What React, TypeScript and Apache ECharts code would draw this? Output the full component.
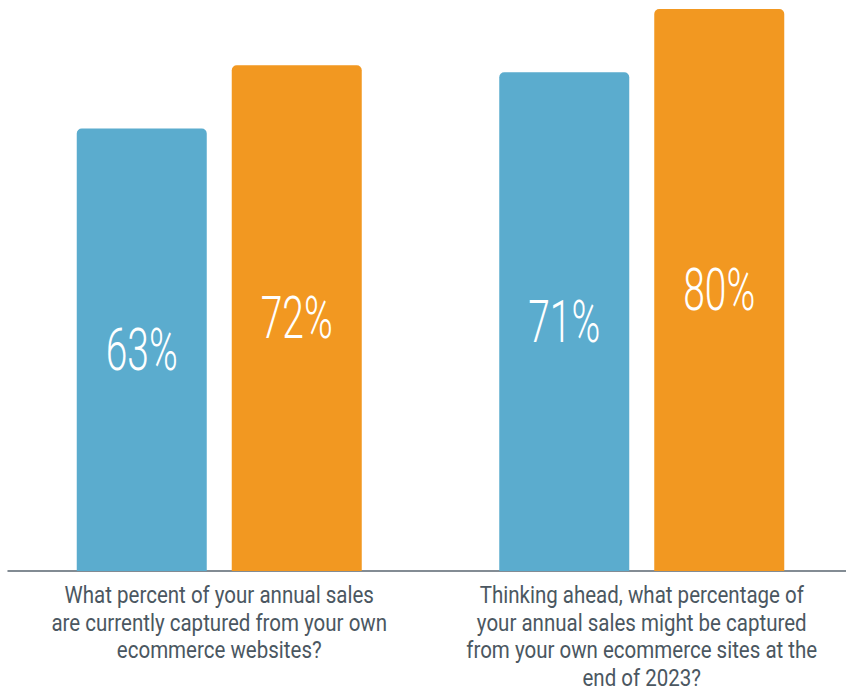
import React, { useEffect, useRef } from "react";
import * as echarts from "echarts";

const categories = [
  "What percent of your annual sales\nare currently captured from your own\necommerce websites?",
  "Thinking ahead, what percentage of\nyour annual sales might be captured\nfrom your own ecommerce sites at the\nend of 2023?",
];
const blueValues = [63, 71];
const orangeValues = [72, 80];

const BAR_W = 130;
const GAP = 25;

function labelSeries(values: number[], side: number) {
  return {
    type: "custom",
    data: values.map((v, i) => [i, v]),
    z: 10,
    silent: true,
    renderItem: (params: any, api: any) => {
      const cat = api.value(0);
      const val = api.value(1);
      const pt = api.coord([cat, val / 2]);
      const off = side * (BAR_W / 2 + GAP / 2);
      return {
        type: "text",
        x: pt[0] + off,
        y: pt[1],
        scaleX: 0.66,
        style: {
          text: val + "%",
          fill: "#ffffff",
          fontFamily: "Roboto, sans-serif",
          fontWeight: 300,
          fontSize: 59,
          align: "center",
          verticalAlign: "middle",
        },
      };
    },
  };
}

const categoryLabelSeries = {
  type: "custom",
  data: categories.map((_, i) => [i, 0]),
  z: 10,
  silent: true,
  clip: false,
  renderItem: (params: any, api: any) => {
    const idx = params.dataIndex;
    const pt = api.coord([api.value(0), 0]);
    return {
      type: "text",
      x: pt[0],
      y: pt[1] + 9.5,
      scaleX: 0.855,
      style: {
        text: categories[idx],
        fill: "#4b5761",
        fontFamily: "Roboto, sans-serif",
        fontSize: 24,
        lineHeight: 27.7,
        align: "center",
        verticalAlign: "top",
      },
    };
  },
};

export default function App() {
  const ref = useRef<HTMLDivElement>(null);
  useEffect(() => {
    if (!ref.current) return;
    const chart = echarts.init(ref.current, null, { renderer: "svg" });
    chart.setOption({
      animation: false,
      backgroundColor: "#ffffff",
      grid: {
        left: 8,
        width: 845,
        top: 9,
        bottom: 115,
        containLabel: false,
        outerBoundsMode: "none",
      },
      xAxis: {
        type: "category",
        data: categories,
        axisTick: { show: false },
        axisLine: { show: true, lineStyle: { color: "#5a6670", width: 1.5 } },
        axisLabel: { show: false },
      },
      yAxis: {
        type: "value",
        min: 0,
        max: 80,
        show: false,
        splitLine: { show: false },
      },
      series: [
        {
          type: "bar",
          data: blueValues,
          barWidth: BAR_W,
          barGap: (GAP / BAR_W) * 100 + "%",
          itemStyle: { color: "#5BACCE", borderRadius: [5, 5, 0, 0] },
        },
        {
          type: "bar",
          data: orangeValues,
          barWidth: BAR_W,
          barGap: (GAP / BAR_W) * 100 + "%",
          itemStyle: { color: "#F29821", borderRadius: [5, 5, 0, 0] },
        },
        labelSeries(blueValues, -1),
        labelSeries(orangeValues, 1),
        categoryLabelSeries,
      ],
    });
    return () => chart.dispose();
  }, []);
  return (
    <div
      ref={ref}
      style={{ position: "absolute", left: 0, top: 0, width: 846, height: 686 }}
    />
  );
}
